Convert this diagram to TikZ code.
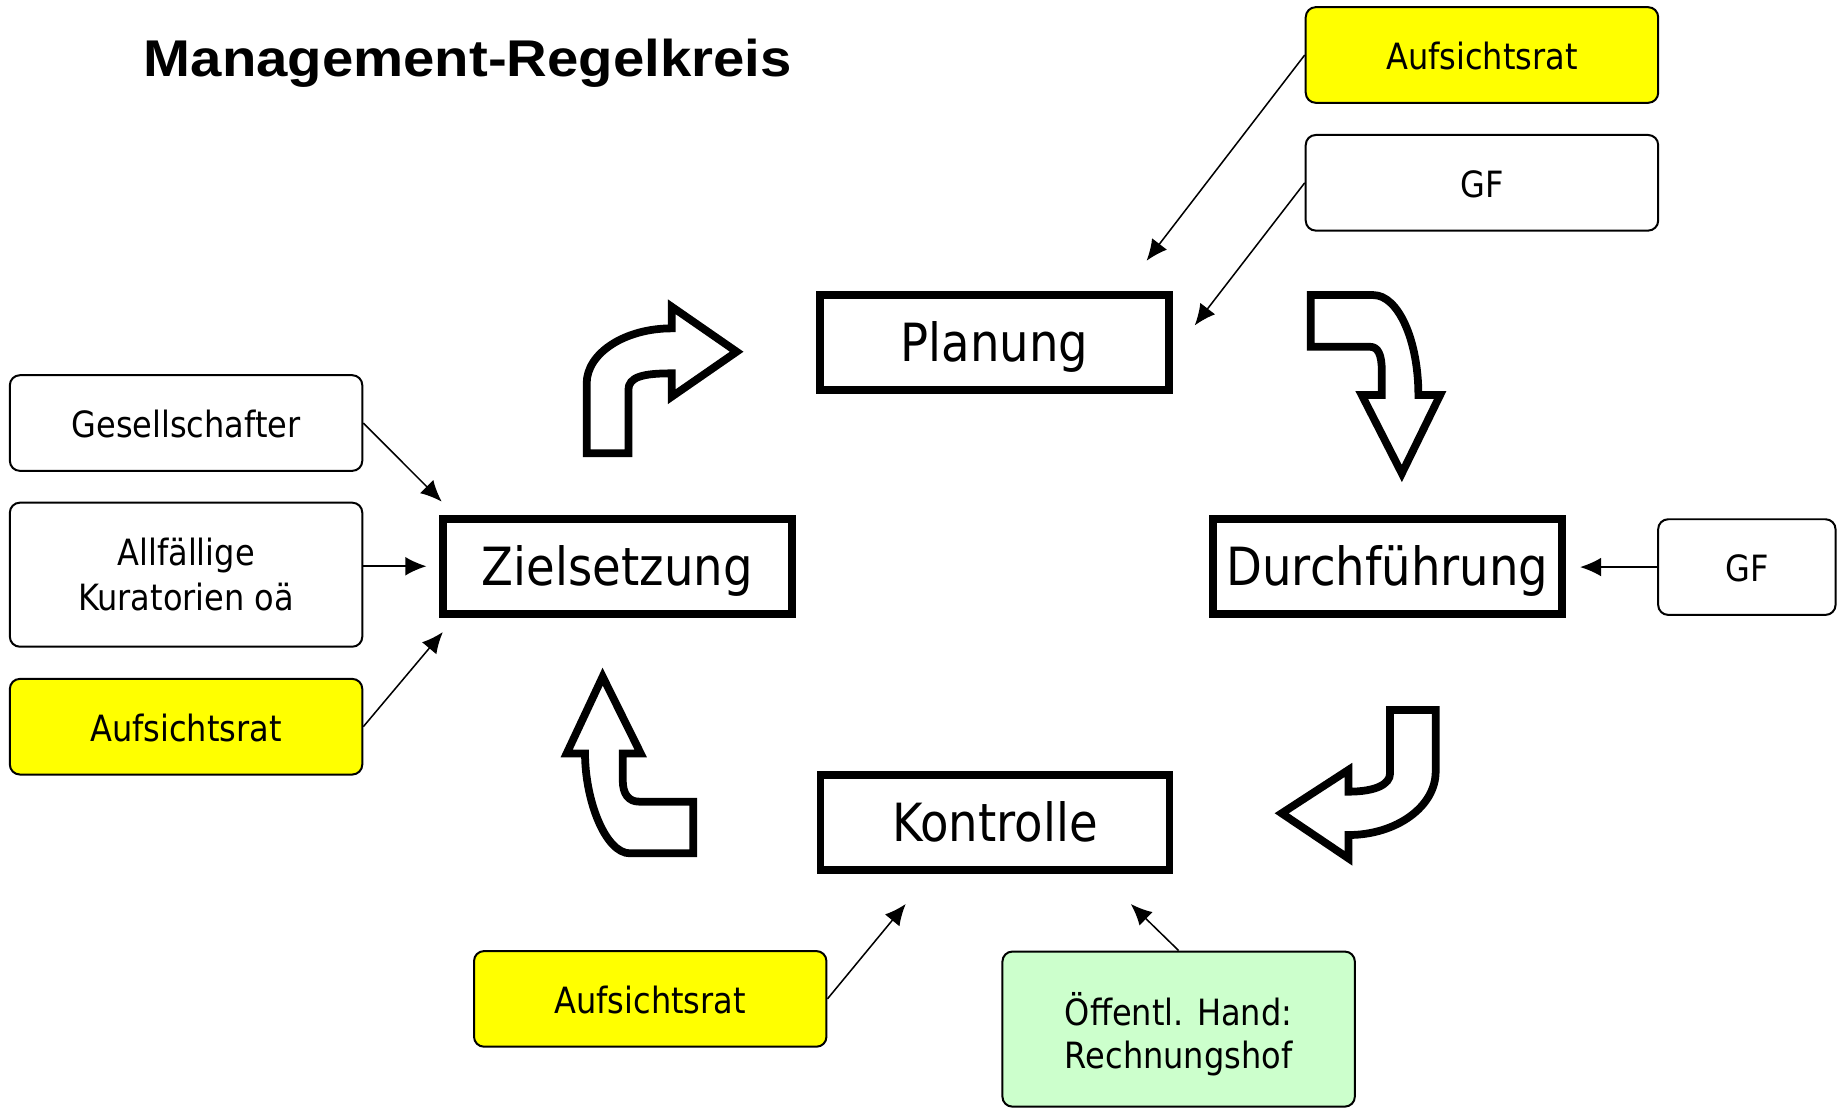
\documentclass[tikz,border=0pt]{standalone}
\usepackage{fontspec}
\setmainfont{DejaVu Sans}[FakeStretch=0.885]
\newfontfamily\titlefont{Liberation Sans}[FakeStretch=1.09]
\usetikzlibrary{arrows.meta}
\definecolor{ayellow}{HTML}{FFFF00}
\definecolor{agreen}{HTML}{CCFFCC}
\begin{document}
\begin{tikzpicture}[x=0.5pt,y=-0.5pt,
  stage/.style={draw, line width=3.3pt, fill=white, minimum width=148.5pt,
    minimum height=40.5pt, inner sep=0pt, font=\fontsize{22.4}{26}\selectfont,
    text height=16.4pt, text depth=0pt},
  sidebox/.style={draw, line width=0.85pt, rounded corners=4.25pt, fill=white,
    minimum width=150pt, minimum height=40.7pt, inner sep=0pt,
    font=\fontsize{15.4}{19.2}\selectfont, align=center},
  onebox/.style={sidebox, text height=12.6pt, text depth=0pt},
  conn/.style={line width=0.65pt, -{Latex[length=9pt,width=8pt]}},
  blockarrow/.style={draw, line width=3.3pt, fill=white, line join=miter}
]
\useasboundingbox (0,0) rectangle (1568,943);

% title
\node[anchor=base west, inner sep=0pt, font=\titlefont\bfseries\fontsize{22}{26}\selectfont] (title) at (122,64.7) {Management-Regelkreis};

% main stages
\node[stage] (plan)  at (846.7,291.5) {Planung};
\node[stage] (ziel)  at (525.5,482)   {Zielsetzung};
\node[stage] (durch) at (1181,482)    {Durchführung};
\node[stage] (kontr) at (847,700)     {Kontrolle};

% side boxes
\node[onebox, fill=ayellow] (aufsT) at (1261.5,46.8)  {Aufsichtsrat};
\node[onebox] (gfT)   at (1261.5,155.6) {GF};
\node[onebox] (ges)   at (158.4,360.1)  {Gesellschafter};
\node[sidebox, minimum height=61.3pt, text height=30.6pt, text depth=0pt] (allf) at (158.4,489.2) {Allfällige\\Kuratorien oä};
\node[onebox, fill=ayellow] (aufsL) at (158.4,618.6) {Aufsichtsrat};
\node[onebox, minimum width=75.5pt] (gfR) at (1487,482.7) {GF};
\node[onebox, fill=ayellow] (aufsB) at (553.5,850.3) {Aufsichtsrat};
\node[sidebox, fill=agreen, minimum height=66pt, font=\fontsize{15.4}{18.45}\selectfont,
  text height=33.5pt, text depth=0pt] (oef) at (1003.3,876) {Öffentl. Hand:\\Rechnungshof};

% connector end points
\coordinate (tA)   at (976,222);
\coordinate (tG)   at (1017,277);
\coordinate (tGes) at (376,427);
\coordinate (tAll) at (363,482);
\coordinate (tAL)  at (377,538);
\coordinate (tGR)  at (1345,482.7);
\coordinate (tAB)  at (771,769.5);
\coordinate (tOef) at (962.6,769.5);

\draw[conn] (aufsT.west) -- (tA);
\draw[conn] (gfT.west) -- (tG);
\draw[conn] (ges.east) -- (tGes);
\draw[conn] (allf.east |- ziel) -- (tAll);
\draw[conn] (aufsL.east) -- (tAL);
\draw[conn] (gfR.west) -- (tGR);
\draw[conn] (aufsB.east) -- (tAB);
\draw[conn] (oef.north) -- (tOef);

% block arrows
% Zielsetzung -> Planung
\draw[blockarrow] (499.4,385.9) -- (499.4,326.4)
  .. controls (499.4,300.5) and (532,279.5) .. (571.8,279.5)
  -- (571.8,261.1) -- (627.1,299.4) -- (571.8,337.7) -- (571.8,317.8)
  .. controls (547.6,317.8) and (534.9,320.7) .. (534.9,332)
  -- (534.9,385.9) -- cycle;
% Planung -> Durchfuehrung
\draw[blockarrow] (1115.8,251.2) -- (1169.1,251.2)
  .. controls (1190.1,251.2) and (1207.4,289.5) .. (1207.4,336.3)
  -- (1225.9,336.3) -- (1193.3,403) -- (1159.2,336.3) -- (1176.2,336.3)
  -- (1176.2,315) .. controls (1176.2,302) and (1173,295.2) .. (1166.3,295.2)
  -- (1115.8,295.2) -- cycle;
% Durchfuehrung -> Kontrolle
\draw[blockarrow] (1183.3,604.4) -- (1183.3,658.3)
  .. controls (1183.3,668) and (1170,673.9) .. (1147.8,673.9)
  -- (1147.8,655.4) -- (1091,692.3) -- (1147.8,730.6) -- (1147.8,710.8)
  .. controls (1188.7,710.8) and (1222.1,686.5) .. (1222.1,656.9)
  -- (1222.1,604.4) -- cycle;
% Kontrolle -> Zielsetzung
\draw[blockarrow] (513,576) -- (545.4,641.3) -- (530.1,641.3) -- (530.1,664)
  .. controls (530.1,676) and (535,682.4) .. (544.2,682.4)
  -- (590.2,682.4) -- (590.2,726.4) -- (536.3,726.4)
  .. controls (515.3,726.4) and (498,681) .. (498,641.3)
  -- (482.4,641.3) -- cycle;
\end{tikzpicture}
\end{document}
